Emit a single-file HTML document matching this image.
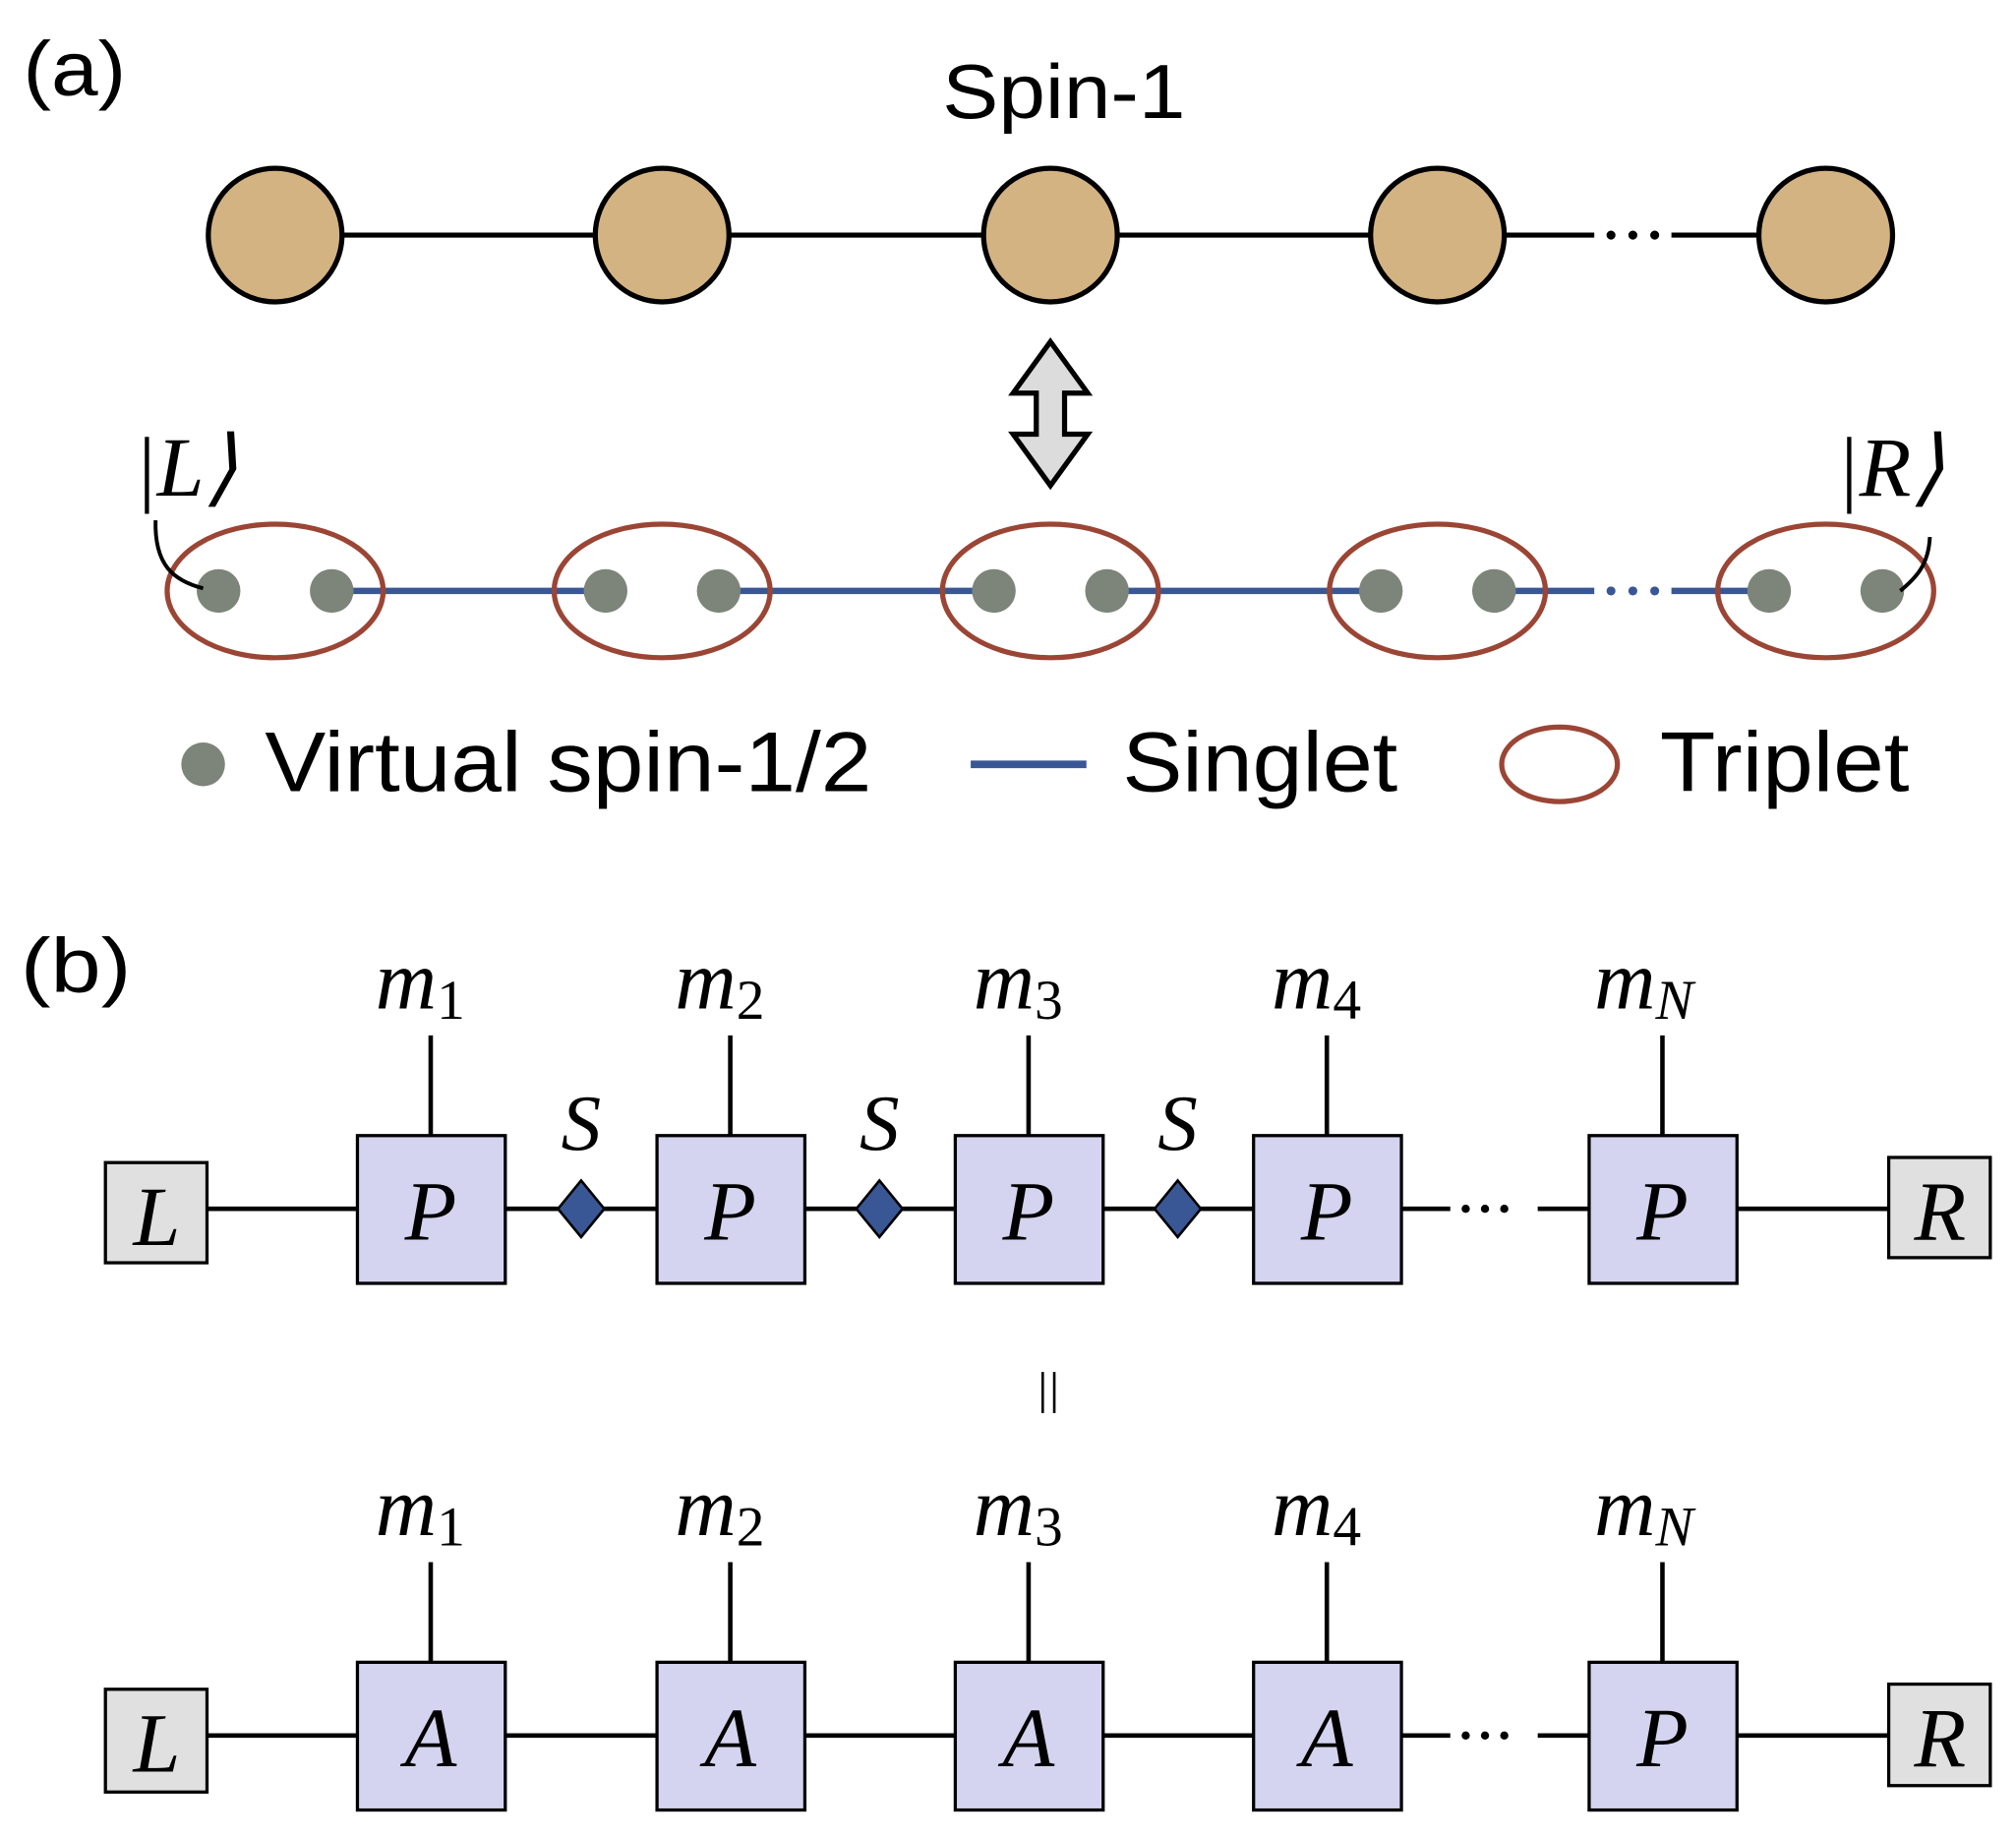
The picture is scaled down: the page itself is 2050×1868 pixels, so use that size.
<!DOCTYPE html>
<html><head><style>html,body{margin:0;padding:0;background:#fff}svg{display:block}</style></head>
<body>
<svg width="2050" height="1868" viewBox="0 0 1568 1430" preserveAspectRatio="none" xmlns="http://www.w3.org/2000/svg">
<g font-family="Liberation Sans, sans-serif" fill="#000">
<text x="18" y="74" font-size="60" textLength="80" lengthAdjust="spacingAndGlyphs">(a)</text>
<text x="733" y="92" font-size="60" textLength="189" lengthAdjust="spacingAndGlyphs">Spin-1</text>
<text x="16" y="772" font-size="60" textLength="86" lengthAdjust="spacingAndGlyphs">(b)</text>
</g>
<g stroke="#000" stroke-width="4">
<line x1="214" y1="183" x2="1240" y2="183"/>
<line x1="1300" y1="183" x2="1420" y2="183"/>
</g>
<g fill="#000"><circle cx="1253" cy="183" r="3.5"/><circle cx="1270" cy="183" r="3.5"/><circle cx="1287" cy="183" r="3.5"/></g>
<g fill="#d4b383" stroke="#000" stroke-width="4">
<circle cx="214" cy="183" r="52"/><circle cx="515" cy="183" r="52"/><circle cx="817" cy="183" r="52"/><circle cx="1118" cy="183" r="52"/><circle cx="1420" cy="183" r="52"/>
</g>
<path d="M817 266 L846 306 L828 306 L828 338 L846 338 L817 378 L788 338 L806 338 L806 306 L788 306 Z" fill="#dcdcdc" stroke="#000" stroke-width="4"/>
<g font-family="Liberation Serif, serif" font-size="66" font-style="italic">
<text x="104" y="386">|L⟩</text>
<text x="1428" y="386">|R⟩</text>
</g>
<g stroke="#3a5795" stroke-width="5">
<line x1="258" y1="460" x2="471" y2="460"/>
<line x1="559" y1="460" x2="773" y2="460"/>
<line x1="861" y1="460" x2="1074" y2="460"/>
<line x1="1162" y1="460" x2="1240" y2="460"/>
<line x1="1300" y1="460" x2="1376" y2="460"/>
</g>
<g fill="#3a5795"><circle cx="1253" cy="460" r="3.5"/><circle cx="1270" cy="460" r="3.5"/><circle cx="1287" cy="460" r="3.5"/></g>
<g fill="#7d8479">
<circle cx="170" cy="460" r="17"/><circle cx="258" cy="460" r="17"/>
<circle cx="471" cy="460" r="17"/><circle cx="559" cy="460" r="17"/>
<circle cx="773" cy="460" r="17"/><circle cx="861" cy="460" r="17"/>
<circle cx="1074" cy="460" r="17"/><circle cx="1162" cy="460" r="17"/>
<circle cx="1376" cy="460" r="17"/><circle cx="1464" cy="460" r="17"/>
</g>
<g fill="none" stroke="#9b4535" stroke-width="4">
<ellipse cx="214" cy="460" rx="84" ry="52"/><ellipse cx="515" cy="460" rx="84" ry="52"/><ellipse cx="817" cy="460" rx="84" ry="52"/><ellipse cx="1118" cy="460" rx="84" ry="52"/><ellipse cx="1420" cy="460" rx="84" ry="52"/>
</g>
<g fill="none" stroke="#000" stroke-width="3">
<path d="M121 405 C120 440 135 452 158 458"/>
<path d="M1501 418 C1500 440 1490 450 1478 460"/>
</g>
<circle cx="158" cy="595" r="17" fill="#7d8479"/>
<line x1="755" y1="595" x2="845" y2="595" stroke="#3a5795" stroke-width="6"/>
<ellipse cx="1213" cy="595" rx="45" ry="29" fill="none" stroke="#9b4535" stroke-width="4"/>
<g font-family="Liberation Sans, sans-serif" font-size="66">
<text x="206" y="616" textLength="472" lengthAdjust="spacingAndGlyphs">Virtual spin-1/2</text>
<text x="873" y="616" textLength="214" lengthAdjust="spacingAndGlyphs">Singlet</text>
<text x="1291" y="616" textLength="194" lengthAdjust="spacingAndGlyphs">Triplet</text>
</g>
<g stroke="#000" stroke-width="3.5">
<line x1="161" y1="941" x2="1128" y2="941"/>
<line x1="1196" y1="941" x2="1469" y2="941"/>
<line x1="335" y1="806" x2="335" y2="884"/><line x1="568" y1="806" x2="568" y2="884"/><line x1="800" y1="806" x2="800" y2="884"/><line x1="1032" y1="806" x2="1032" y2="884"/><line x1="1293" y1="806" x2="1293" y2="884"/>
<line x1="161" y1="1351" x2="1128" y2="1351"/>
<line x1="1196" y1="1351" x2="1469" y2="1351"/>
<line x1="335" y1="1216" x2="335" y2="1294"/><line x1="568" y1="1216" x2="568" y2="1294"/><line x1="800" y1="1216" x2="800" y2="1294"/><line x1="1032" y1="1216" x2="1032" y2="1294"/><line x1="1293" y1="1216" x2="1293" y2="1294"/>
</g>
<g fill="#000"><circle cx="1140" cy="941" r="3.2"/><circle cx="1155" cy="941" r="3.2"/><circle cx="1170" cy="941" r="3.2"/>
<circle cx="1140" cy="1351" r="3.2"/><circle cx="1155" cy="1351" r="3.2"/><circle cx="1170" cy="1351" r="3.2"/></g>
<g fill="#d4d4f0" stroke="#000" stroke-width="2.5">
<rect x="278" y="884" width="115" height="115"/><rect x="511" y="884" width="115" height="115"/><rect x="743" y="884" width="115" height="115"/><rect x="975" y="884" width="115" height="115"/><rect x="1236" y="884" width="115" height="115"/>
<rect x="278" y="1294" width="115" height="115"/><rect x="511" y="1294" width="115" height="115"/><rect x="743" y="1294" width="115" height="115"/><rect x="975" y="1294" width="115" height="115"/><rect x="1236" y="1294" width="115" height="115"/>
</g>
<g fill="#e0e0e0" stroke="#000" stroke-width="2.5">
<rect x="82" y="905" width="79" height="78"/><rect x="1469" y="901" width="79" height="78"/>
<rect x="82" y="1315" width="79" height="80"/><rect x="1469" y="1311" width="79" height="79"/>
</g>
<g fill="#3a5795" stroke="#000" stroke-width="2">
<path d="M452 919 L470 941 L452 963 L434 941 Z"/><path d="M684 919 L702 941 L684 963 L666 941 Z"/><path d="M916 919 L934 941 L916 963 L898 941 Z"/>
</g>
<g font-family="Liberation Serif, serif" font-style="italic" font-size="66" text-anchor="middle">
<text x="335" y="965">P</text><text x="568" y="965">P</text><text x="800" y="965">P</text><text x="1032" y="965">P</text><text x="1293" y="965">P</text>
<text x="335" y="1375">A</text><text x="568" y="1375">A</text><text x="800" y="1375">A</text><text x="1032" y="1375">A</text><text x="1293" y="1375">P</text>
<text x="122" y="969">L</text><text x="1509" y="965">R</text>
<text x="122" y="1379">L</text><text x="1509" y="1375">R</text>
<text x="452" y="895" font-size="62">S</text><text x="684" y="895" font-size="62">S</text><text x="916" y="895" font-size="62">S</text>
</g>
<g font-family="Liberation Serif, serif" font-size="66">
<text x="292" y="785" font-style="italic">m<tspan font-style="normal" font-size="44" dy="8">1</tspan></text>
<text x="525" y="785" font-style="italic">m<tspan font-style="normal" font-size="44" dy="8">2</tspan></text>
<text x="757" y="785" font-style="italic">m<tspan font-style="normal" font-size="44" dy="8">3</tspan></text>
<text x="989" y="785" font-style="italic">m<tspan font-style="normal" font-size="44" dy="8">4</tspan></text>
<text x="1240" y="785" font-style="italic">m<tspan font-size="44" dy="8">N</tspan></text>
<text x="292" y="1195" font-style="italic">m<tspan font-style="normal" font-size="44" dy="8">1</tspan></text>
<text x="525" y="1195" font-style="italic">m<tspan font-style="normal" font-size="44" dy="8">2</tspan></text>
<text x="757" y="1195" font-style="italic">m<tspan font-style="normal" font-size="44" dy="8">3</tspan></text>
<text x="989" y="1195" font-style="italic">m<tspan font-style="normal" font-size="44" dy="8">4</tspan></text>
<text x="1240" y="1195" font-style="italic">m<tspan font-size="44" dy="8">N</tspan></text>
</g>
<g stroke="#000" stroke-width="2"><line x1="811" y1="1068" x2="811" y2="1100"/><line x1="820" y1="1068" x2="820" y2="1100"/></g>
</svg>
</body></html>
